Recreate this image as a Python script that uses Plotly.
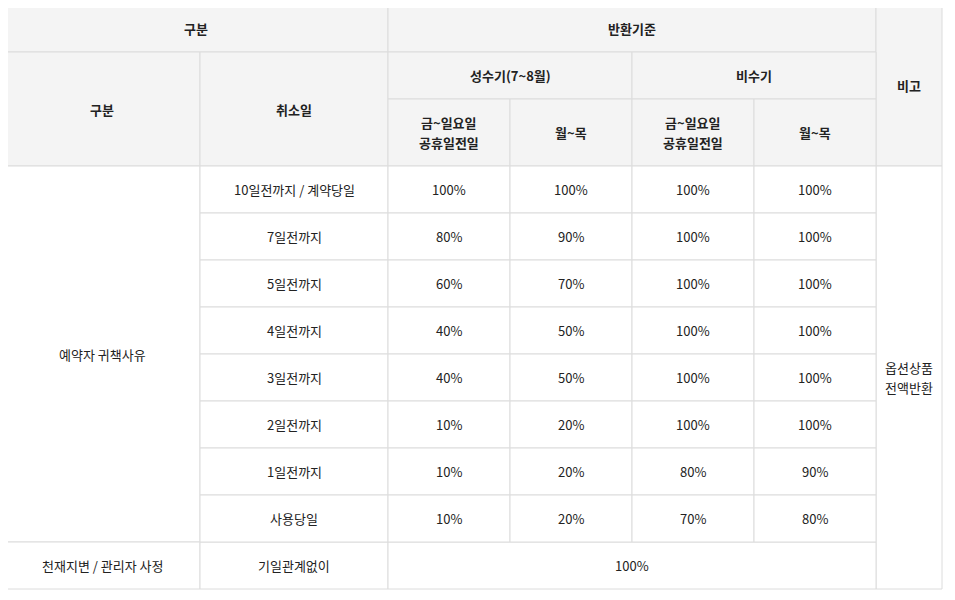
import plotly.graph_objects as go

# column / row edges of the table grid (pixels)
col_edges = [4, 200, 388, 510, 632, 754, 876, 942]
row_edges = [5, 52, 99, 166, 213, 260, 307, 354, 401, 448, 495, 542, 589]

days = ["10일전까지 / 계약당일", "7일전까지", "5일전까지", "4일전까지", "3일전까지",
        "2일전까지", "1일전까지", "사용당일"]
peak_weekend = ["100%", "80%", "60%", "40%", "40%", "10%", "10%", "10%"]
peak_weekday = ["100%", "90%", "70%", "50%", "50%", "20%", "20%", "20%"]
off_weekend = ["100%", "100%", "100%", "100%", "100%", "100%", "80%", "70%"]
off_weekday = ["100%", "100%", "100%", "100%", "100%", "100%", "90%", "80%"]

# cells: (text lines, col0, col1, row0, row1, header)
cells = [
    (["구분"], 0, 2, 0, 1, True),
    (["반환기준"], 2, 6, 0, 1, True),
    (["비고"], 6, 7, 0, 3, True),
    (["구분"], 0, 1, 1, 3, True),
    (["취소일"], 1, 2, 1, 3, True),
    (["성수기(7~8월)"], 2, 4, 1, 2, True),
    (["비수기"], 4, 6, 1, 2, True),
    (["금~일요일", "공휴일전일"], 2, 3, 2, 3, True),
    (["월~목"], 3, 4, 2, 3, True),
    (["금~일요일", "공휴일전일"], 4, 5, 2, 3, True),
    (["월~목"], 5, 6, 2, 3, True),
    (["예약자 귀책사유"], 0, 1, 3, 11, False),
    (["옵션상품", "전액반환"], 6, 7, 3, 12, False),
    (["천재지변 / 관리자 사정"], 0, 1, 11, 12, False),
    (["기일관계없이"], 1, 2, 11, 12, False),
    (["100%"], 2, 6, 11, 12, False),
]
for i in range(len(days)):
    r = 3 + i
    for c, v in enumerate([days[i], peak_weekend[i], peak_weekday[i], off_weekend[i], off_weekday[i]]):
        cells.append(([v], 1 + c, 2 + c, r, r + 1, False))

fig = go.Figure()
shapes = []
for lines, c0, c1, r0, r1, hdr in cells:
    x0, x1 = col_edges[c0], col_edges[c1]
    y0, y1 = row_edges[r0], row_edges[r1]
    shapes.append(dict(type="rect", x0=x0, x1=x1, y0=y0, y1=y1,
                       fillcolor="#f4f4f4" if hdr else "white",
                       line=dict(color="#dcdcdc", width=1), layer="below"))
    n = len(lines)
    for k, t in enumerate(lines):
        yc = (y0 + y1) / 2 + (k - (n - 1) / 2) * 20
        fig.add_annotation(x=(x0 + x1) / 2, y=yc, text=f"<b>{t}</b>" if hdr else t,
                           showarrow=False, font=dict(size=13, color="#222"))
shapes.append(dict(type="line", x0=4, x1=942, y0=4, y1=4, line=dict(color="#6fa83a", width=3)))

# page is offset by the body margin, so shift the view by 8px
fig.update_layout(
    width=955, height=600, margin=dict(l=0, r=0, t=0, b=0),
    paper_bgcolor="white", plot_bgcolor="white", shapes=shapes,
    font=dict(family="Noto Sans CJK KR"),
    xaxis=dict(range=[8, 963], visible=False, fixedrange=True),
    yaxis=dict(range=[608, 8], visible=False, fixedrange=True),
    showlegend=False,
)
fig.write_html("out.html")
